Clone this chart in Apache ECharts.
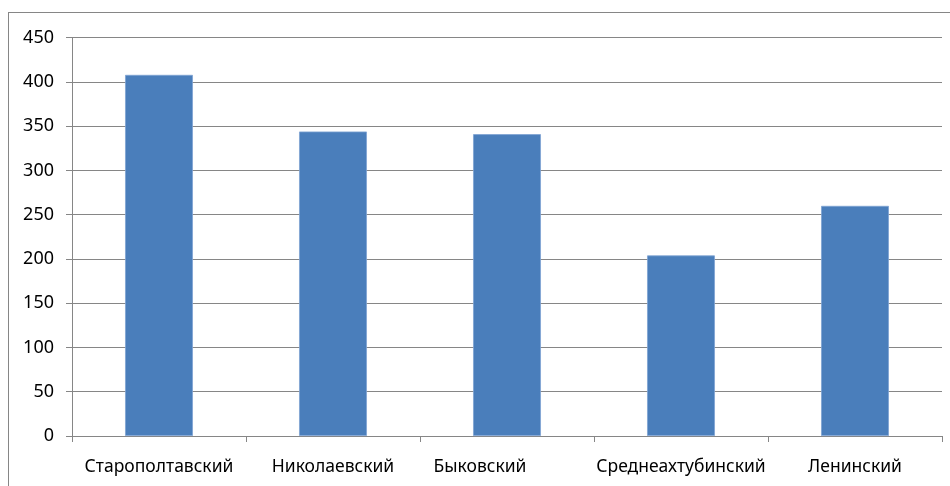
<!DOCTYPE html>
<html><head><meta charset="utf-8">
<script src="https://cdn.jsdelivr.net/npm/echarts@6/dist/echarts.min.js"></script>
<style>
html,body{margin:0;padding:0;background:#fff;overflow:hidden}
#frame{position:absolute;left:8px;top:12px;width:1000px;height:600px;border:1px solid #868686;box-sizing:border-box}
#c{position:absolute;left:0;top:0;width:950px;height:486px}
</style></head><body>
<div id="frame"></div>
<div id="c"></div>
<script>
const categories = ["Старополтавский","Николаевский","Быковский","Среднеахтубинский","Ленинский"];
const values = [408, 344, 341, 204, 260];
const yTicks = {min:0, max:450, interval:50};

const catData = categories.map((c, i) => i === 2
  ? {value:c, textStyle:{padding:[0,54,0,0]}}
  : c);

const chart = echarts.init(document.getElementById('c'));
chart.setOption({
  animation:false,
  grid:{left:72, right:8, top:37.7, bottom:50, containLabel:false},
  xAxis:{
    type:'category', data:catData,
    axisLine:{lineStyle:{color:'#868686', width:1}},
    axisTick:{show:true, alignWithLabel:false, length:6, lineStyle:{color:'#868686'}},
    axisLabel:{color:'#000', fontFamily:'Noto Sans', fontSize:17.5, margin:22, interval:0}
  },
  yAxis:{
    type:'value', min:yTicks.min, max:yTicks.max, interval:yTicks.interval,
    axisLine:{show:true, lineStyle:{color:'#868686'}},
    axisTick:{show:true, length:6, inside:false, lineStyle:{color:'#868686'}},
    splitLine:{lineStyle:{color:'#868686', width:1}},
    axisLabel:{color:'#000', fontFamily:'Noto Sans', fontSize:18, margin:18}
  },
  series:[{
    type:'bar', data:values, barWidth:'39%',
    itemStyle:{color:'#4a7ebb', borderColor:'#7fa3d3', borderWidth:0.8}
  }]
});
</script>
</body></html>
